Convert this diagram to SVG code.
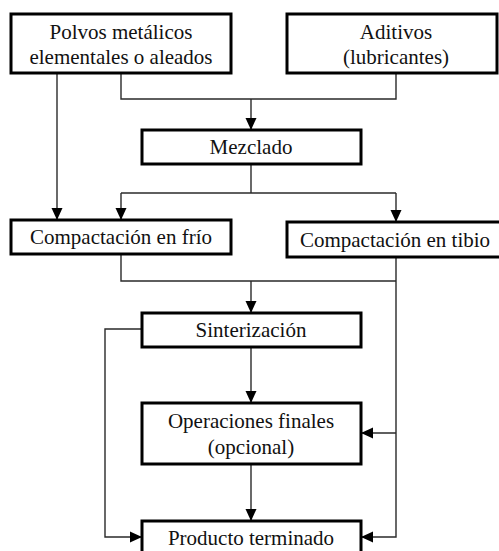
<svg xmlns="http://www.w3.org/2000/svg" width="499" height="551" viewBox="0 0 499 551">
  <style>
    .box { fill: #fff; stroke: #000; stroke-width: 3; }
    .lbl { font-family: "Liberation Serif", "Times New Roman", "DejaVu Serif", serif; font-size: 21px; fill: #111; text-anchor: middle; }
    .wire { fill: none; stroke: #2a2a2a; stroke-width: 1.4; }
  </style>
  <defs>
    <marker id="arrow" viewBox="0 0 12 12" refX="12" refY="6" markerWidth="12" markerHeight="12" markerUnits="userSpaceOnUse" orient="auto">
      <path d="M0,0.5 L12,6 L0,11.5 Z" fill="#000"/>
    </marker>
  </defs>
  <rect width="499" height="551" fill="#fff"/>

  <g id="connectors">
    <!-- raw materials merge into mixing -->
    <path class="wire" d="M121,73 V99 H396 V73"/>
    <path class="wire" d="M251,99 V130" marker-end="url(#arrow)"/>
    <!-- powders straight to cold compaction -->
    <path class="wire" d="M57,73 V220" marker-end="url(#arrow)"/>
    <!-- mixing splits to both compaction routes -->
    <path class="wire" d="M251,164 V193"/>
    <path class="wire" d="M121,193 H396"/>
    <path class="wire" d="M121,193 V220" marker-end="url(#arrow)"/>
    <path class="wire" d="M396,193 V222" marker-end="url(#arrow)"/>
    <!-- cold compaction to sintering -->
    <path class="wire" d="M121,254 V281 H396"/>
    <path class="wire" d="M251,281 V313" marker-end="url(#arrow)"/>
    <!-- warm compaction bypass on the right -->
    <path class="wire" d="M396,257 V537 H361" marker-end="url(#arrow)"/>
    <path class="wire" d="M396,433 H361" marker-end="url(#arrow)"/>
    <!-- sintering bypass on the left -->
    <path class="wire" d="M142,329 H105 V537 H142" marker-end="url(#arrow)"/>
    <!-- main line down -->
    <path class="wire" d="M251,347 V403" marker-end="url(#arrow)"/>
    <path class="wire" d="M251,464 V521" marker-end="url(#arrow)"/>
  </g>

  <g id="polvos">
    <rect class="box" x="11" y="14" width="220" height="59"/>
    <text class="lbl" x="121" y="39">Polvos metálicos</text>
    <text class="lbl" x="121" y="64">elementales o aleados</text>
  </g>
  <g id="aditivos">
    <rect class="box" x="287" y="14" width="210" height="59"/>
    <text class="lbl" x="396" y="39">Aditivos</text>
    <text class="lbl" x="396" y="64">(lubricantes)</text>
  </g>
  <g id="mezclado">
    <rect class="box" x="142" y="130" width="219" height="34"/>
    <text class="lbl" x="251" y="154">Mezclado</text>
  </g>
  <g id="compactacion-frio">
    <rect class="box" x="11" y="220" width="220" height="34"/>
    <text class="lbl" x="121" y="244">Compactación en frío</text>
  </g>
  <g id="compactacion-tibio">
    <rect class="box" x="287" y="222" width="214" height="35"/>
    <text class="lbl" x="395" y="247">Compactación en tibio</text>
  </g>
  <g id="sinterizacion">
    <rect class="box" x="142" y="313" width="219" height="34"/>
    <text class="lbl" x="251" y="337">Sinterización</text>
  </g>
  <g id="operaciones">
    <rect class="box" x="142" y="403" width="219" height="61"/>
    <text class="lbl" x="251" y="428">Operaciones finales</text>
    <text class="lbl" x="251" y="454">(opcional)</text>
  </g>
  <g id="producto">
    <rect class="box" x="142" y="521" width="219" height="40"/>
    <text class="lbl" x="251" y="545">Producto terminado</text>
  </g>
</svg>
